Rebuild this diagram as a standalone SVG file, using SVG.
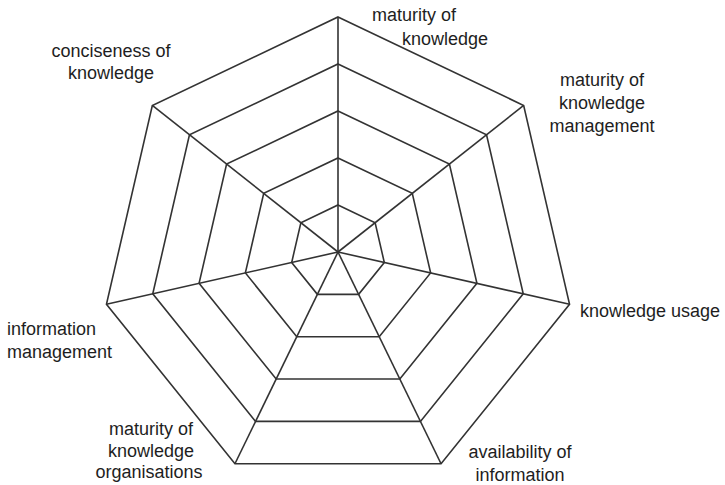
<svg xmlns="http://www.w3.org/2000/svg" width="725" height="485" viewBox="0 0 725 485">
<style>
.ring{fill:none;stroke:#333;stroke-width:1.6;stroke-linejoin:miter}
.spoke{stroke:#333;stroke-width:1.6}
.lbl{font-family:"Liberation Sans",Arial,sans-serif;font-size:18px;fill:#1e1e1e}
.mid{text-anchor:middle}
</style>
<rect width="725" height="485" fill="#fff"/>
<g id="grid">
<polygon class="ring" points="338,205 375.14,222.70 384.31,262.46 358.61,294.35 317.39,294.35 291.69,262.46 300.86,222.70"/>
<polygon class="ring" points="338,158 412.27,193.39 430.62,272.92 379.22,336.69 296.78,336.69 245.38,272.92 263.73,193.39"/>
<polygon class="ring" points="338,111 449.41,164.09 476.93,283.37 399.83,379.04 276.17,379.04 199.07,283.37 226.59,164.09"/>
<polygon class="ring" points="338,64 486.54,134.78 523.24,293.83 420.44,421.38 255.56,421.38 152.76,293.83 189.46,134.78"/>
<polygon class="ring" points="338,17 523.68,105.48 569.55,304.29 441.05,463.73 234.95,463.73 106.45,304.29 152.32,105.48"/>
</g>
<g id="connectors">
<line class="spoke" x1="338" y1="252" x2="338" y2="17"/>
<line class="spoke" x1="338" y1="252" x2="523.68" y2="105.48"/>
<line class="spoke" x1="338" y1="252" x2="569.55" y2="304.29"/>
<line class="spoke" x1="338" y1="252" x2="441.05" y2="463.73"/>
<line class="spoke" x1="338" y1="252" x2="234.95" y2="463.73"/>
<line class="spoke" x1="338" y1="252" x2="106.45" y2="304.29"/>
<line class="spoke" x1="338" y1="252" x2="152.32" y2="105.48"/>
</g>
<g id="label-maturity-knowledge">
<text class="lbl" x="372" y="21">maturity of</text>
<text class="lbl" x="402" y="45">knowledge</text>
</g>
<g id="label-maturity-km">
<text class="lbl mid" x="602" y="86">maturity of</text>
<text class="lbl mid" x="602" y="109">knowledge</text>
<text class="lbl mid" x="602" y="132">management</text>
</g>
<g id="label-knowledge-usage">
<text class="lbl" x="580" y="317">knowledge usage</text>
</g>
<g id="label-availability">
<text class="lbl mid" x="520" y="458">availability of</text>
<text class="lbl mid" x="520" y="481">information</text>
</g>
<g id="label-maturity-ko">
<text class="lbl mid" x="151" y="435">maturity of</text>
<text class="lbl mid" x="151" y="457">knowledge</text>
<text class="lbl mid" x="149" y="478">organisations</text>
</g>
<g id="label-information-management">
<text class="lbl" x="7" y="335">information</text>
<text class="lbl" x="7" y="358">management</text>
</g>
<g id="label-conciseness">
<text class="lbl mid" x="111" y="57">conciseness of</text>
<text class="lbl mid" x="111" y="79">knowledge</text>
</g>
</svg>
